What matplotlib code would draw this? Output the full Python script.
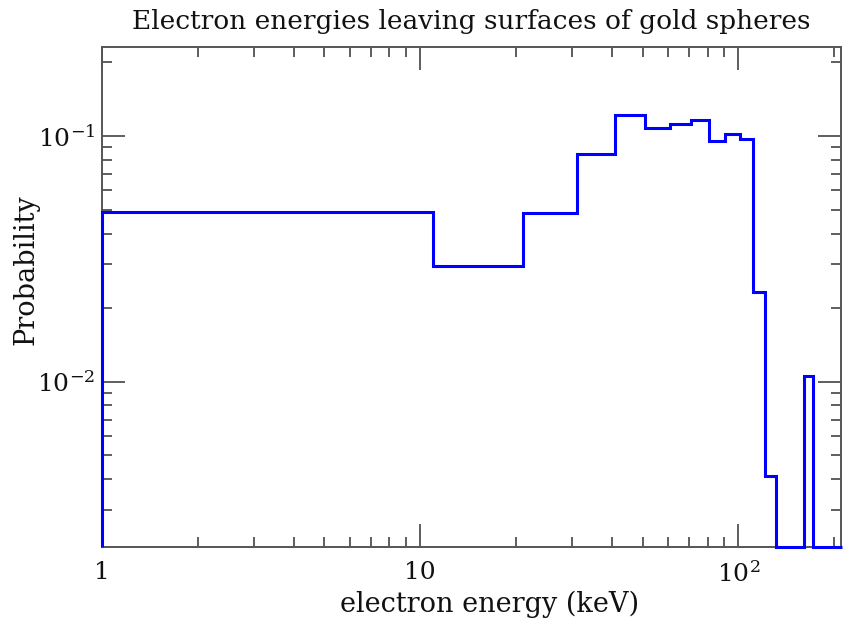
import matplotlib
matplotlib.use("Agg")
import numpy as np
import matplotlib.pyplot as plt
from matplotlib.ticker import FixedLocator, FixedFormatter, LogLocator, NullFormatter

# bin edges (keV), 10 keV wide bins starting at 1 keV
bin_edges = [1, 11, 21, 31, 41, 51, 61, 71, 81, 91, 101, 111, 121, 131,
             141, 151, 161, 171, 181, 191, 201, 211]
probability = [0.049, 0.0295, 0.0487, 0.0842, 0.122, 0.108, 0.112, 0.1165,
               0.0953, 0.1017, 0.0967, 0.0231, 0.00413, 0.0, 0.0, 0.0,
               0.0105, 0.0, 0.0, 0.0, 0.0]

x_ticks = [1, 10, 100]
x_tick_labels = ["1", "10", "$10^{2}$"]
y_ticks = [0.01, 0.1]
y_tick_labels = ["$10^{-2}$", "$10^{-1}$"]

y_lo, y_hi = 0.00212, 0.230

plt.rcParams["font.family"] = ["DejaVu Serif"]
plt.rcParams["mathtext.fontset"] = "dejavuserif"
plt.rcParams["mathtext.default"] = "regular"

fig = plt.figure(figsize=(8.44, 6.21), dpi=100)
ax = fig.add_axes([102 / 844, 1 - 547 / 621, 739 / 844, 500 / 621])

# empty bins sit on the bottom of the log axis, as in the original
shown = np.clip(probability, y_lo, None)
ax.stairs(shown, bin_edges, color="#0000ff", linewidth=2.2, baseline=y_lo,
          clip_on=False, zorder=3)

ax.set_xscale("log")
ax.set_yscale("log")
ax.set_xlim(1, 210)
ax.set_ylim(y_lo, y_hi)

ax.xaxis.set_major_locator(FixedLocator(x_ticks))
ax.xaxis.set_major_formatter(FixedFormatter(x_tick_labels))
ax.xaxis.set_minor_locator(LogLocator(base=10, subs=range(2, 10)))
ax.xaxis.set_minor_formatter(NullFormatter())
ax.yaxis.set_major_locator(FixedLocator(y_ticks))
ax.yaxis.set_major_formatter(FixedFormatter(y_tick_labels))
ax.yaxis.set_minor_locator(LogLocator(base=10, subs=range(2, 10)))
ax.yaxis.set_minor_formatter(NullFormatter())

ax.tick_params(which="both", direction="in", top=True, right=True,
               color="#333333", labelsize=18, labelcolor="#111111")
ax.tick_params(which="major", length=16.5, width=1.1, pad=10)
ax.tick_params(which="minor", length=7.5, width=1.1)
ax.tick_params(axis="y", which="major", pad=5)

for s in ax.spines.values():
    s.set_color("#555555")
    s.set_linewidth(1.4)

ax.set_title("Electron energies leaving surfaces of gold spheres",
             fontsize=19, color="#111111", pad=13)
ax.set_xlabel("electron energy (keV)", fontsize=19.5, color="#111111")
ax.xaxis.set_label_coords(0.525, -0.088)
ax.set_ylabel("Probability", fontsize=19.5, color="#111111")
ax.yaxis.set_label_coords(-0.085, 0.554)

fig.savefig("out.png", dpi=100)
